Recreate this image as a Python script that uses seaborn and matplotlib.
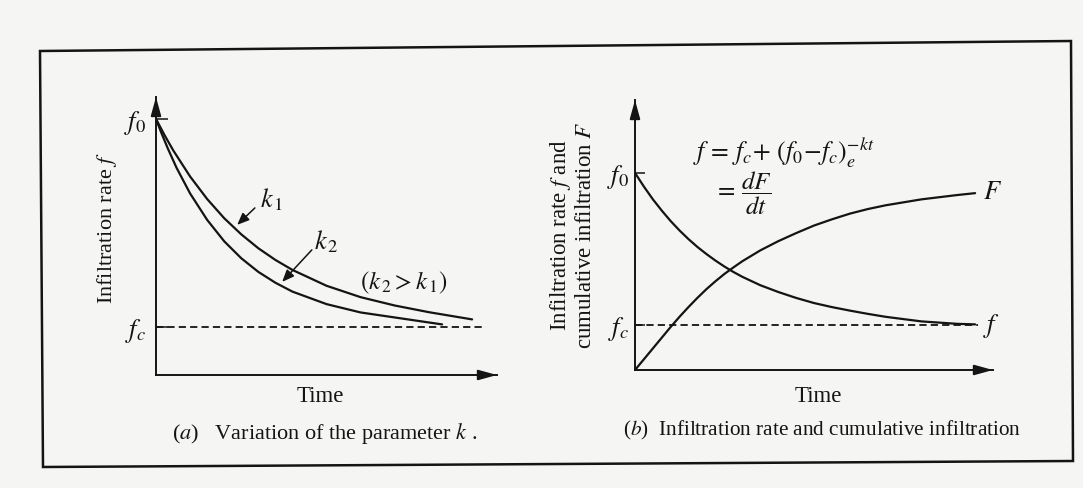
import matplotlib
matplotlib.use("Agg")
import matplotlib.pyplot as plt
from matplotlib.patches import Polygon
import seaborn as sns

# ---------------- data ----------------
# (a) infiltration capacity for two decay constants (k2 > k1)
t_k1 = [0, 0.25, 0.5, 1, 1.5, 2, 2.5, 3, 3.5, 4, 5, 6, 7, 8, 9.27]
f_k1 = [9.21, 8.63, 8.09, 7.14, 6.33, 5.64, 5.06, 4.56, 4.14, 3.78, 3.21, 2.80, 2.50, 2.26, 2.00]
t_k2 = [0, 0.15, 0.35, 0.6, 1, 1.5, 2, 2.5, 3, 3.5, 4, 5, 6, 7, 8.39]
f_k2 = [9.21, 8.73, 8.14, 7.46, 6.53, 5.58, 4.81, 4.20, 3.71, 3.32, 3.00, 2.55, 2.25, 2.07, 1.82]
f0_a, fc_a, fc_a_end = 9.21, 1.73, 9.59

# (b) infiltration rate f and cumulative infiltration F
t_b = [0, 0.25, 0.5, 0.75, 1, 1.25, 1.5, 1.75, 2, 2.25, 2.5, 2.75, 3, 3.5, 4,
       4.5, 5, 5.5, 6, 6.5, 7, 8, 9, 9.5]
f_b = [7.30, 6.79, 6.32, 5.90, 5.51, 5.16, 4.84, 4.55, 4.29, 4.05, 3.83, 3.63, 3.45, 3.14, 2.89,
       2.67, 2.48, 2.33, 2.20, 2.08, 1.97, 1.80, 1.71, 1.69]
F_b = [0, 0.40, 0.80, 1.20, 1.60, 1.98, 2.34, 2.68, 3.00, 3.29, 3.56, 3.80, 4.03, 4.43, 4.77,
       5.07, 5.35, 5.58, 5.79, 5.96, 6.10, 6.32, 6.48, 6.55]
f0_b, fc_b, fc_b_end = 7.30, 1.67, 9.58

# ---------------- style ----------------
sns.set_theme(style="white")
plt.rcParams["font.family"] = ["Liberation Serif", "DejaVu Serif"]
plt.rcParams["mathtext.fontset"] = "stix"

INK = "#141414"
PAPER = "#f5f5f4"
W, H = 1083, 488

fig = plt.figure(figsize=(W / 100, H / 100), dpi=100, facecolor=PAPER)


def axes_px(left, top, right, bottom):
    return fig.add_axes([left / W, 1 - bottom / H, (right - left) / W, (bottom - top) / H])


def fig_xy(x, y):
    return x / W, 1 - y / H


def setup(ax, f0, fc, tick_len, pad):
    ax.set_facecolor("none")
    ax.set_xlim(0, 10)
    ax.set_ylim(0, 10)
    for s in ("top", "right"):
        ax.spines[s].set_visible(False)
    for s in ("left", "bottom"):
        ax.spines[s].set_color(INK)
        ax.spines[s].set_linewidth(1.4)
    ax.set_xticks([])
    ax.set_yticks([fc, f0], labels=[r"$f_c$", r"$f_0$"])
    ax.tick_params(axis="y", direction="in", length=tick_len, width=1.1,
                   color=INK, labelsize=19, pad=pad, left=True, labelcolor=INK)
    ax.grid(False)
    head = "-|>,head_length=0.8,head_width=0.22"
    ax.annotate("", xy=(1.0, 0), xytext=(0.95, 0), xycoords="axes fraction",
                arrowprops=dict(arrowstyle=head, color=INK, lw=1.4, mutation_scale=14,
                                shrinkA=0, shrinkB=0))
    ax.annotate("", xy=(0, 1.0), xytext=(0, 0.95), xycoords="axes fraction",
                arrowprops=dict(arrowstyle=head, color=INK, lw=1.4, mutation_scale=14,
                                shrinkA=0, shrinkB=0))


dash = (0, (4.0, 2.3))
pointer = dict(arrowstyle="-|>,head_length=0.6,head_width=0.25",
               color=INK, lw=1.1, mutation_scale=12, shrinkA=0, shrinkB=0)

# ---------------- panel (a) ----------------
ax_a = axes_px(156, 97, 497, 375)
setup(ax_a, f0_a, fc_a, 8.5, 7)
sns.lineplot(x=t_k1, y=f_k1, ax=ax_a, color=INK, lw=1.6, estimator=None, sort=False)
sns.lineplot(x=t_k2, y=f_k2, ax=ax_a, color=INK, lw=1.6, estimator=None, sort=False)
ax_a.hlines(fc_a, 0, fc_a_end, colors=INK, lw=1.3, linestyles=dash)

ax_a.annotate("", xy=(2.38, 5.40), xytext=(2.90, 6.01), arrowprops=pointer)
ax_a.annotate("", xy=(3.70, 3.35), xytext=(4.57, 4.50), arrowprops=pointer)
ax_a.text(3.38, 6.30, r"$k_{\,1}$", fontsize=19, ha="center", va="center", color=INK)
ax_a.text(5.00, 4.80, r"$k_{\,2}$", fontsize=19, ha="center", va="center", color=INK)
ax_a.text(7.27, 3.30, r"$(k_{\,2} > k_{\,1})$", fontsize=18, ha="center", va="center", color=INK)

ax_a.set_ylabel(r"Infiltration rate $f$", fontsize=16, color=INK)
ax_a.yaxis.set_label_coords(-0.144, 0.53)
ax_a.yaxis.label.set_va("center")
fig.text(*fig_xy(320, 396), "Time", fontsize=16.5, ha="center", va="center", color=INK)

# ---------------- panel (b) ----------------
ax_b = axes_px(635, 100, 993, 370)
setup(ax_b, f0_b, fc_b, 7, 4)
sns.lineplot(x=t_b, y=f_b, ax=ax_b, color=INK, lw=1.6, estimator=None, sort=False)
sns.lineplot(x=t_b, y=F_b, ax=ax_b, color=INK, lw=1.6, estimator=None, sort=False)
ax_b.hlines(fc_b, 0, fc_b_end, colors=INK, lw=1.3, linestyles=dash)

ax_b.text(9.72, F_b[-1], r"$F$", fontsize=19, ha="left", va="center", color=INK)
ax_b.text(9.72, fc_b - 0.05, r"$f$", fontsize=19, ha="left", va="center", color=INK)
ax_b.text(1.62, 8.04, r"$f\,=\,f_c\!+\,(f_0\!-\!f_c)_e^{-kt}$", fontsize=18.5,
          ha="left", va="center", color=INK)
ax_b.text(2.22, 6.55, r"$=\,\dfrac{dF}{dt}$", fontsize=18, ha="left", va="center", color=INK)

ax_b.set_ylabel("Infiltration rate $f$ and\ncumulative infiltration $F$",
                fontsize=16.5, color=INK, linespacing=1.12)
ax_b.yaxis.set_label_coords(-0.175, 0.50)
ax_b.yaxis.label.set_va("center")
fig.text(*fig_xy(818, 397), "Time", fontsize=16.5, ha="center", va="center", color=INK)

# ---------------- captions and frame ----------------
fig.text(*fig_xy(325, 433), r"($a$)   Variation of the parameter $k$ .",
         fontsize=16, ha="center", va="center", color=INK)
fig.text(*fig_xy(822, 430), r"($b$)  Infiltration rate and cumulative infiltration",
         fontsize=15.3, ha="center", va="center", color=INK)

corners = [(40, 51), (1071, 41), (1073, 461), (43, 467)]
frame = Polygon([fig_xy(x, y) for x, y in corners], closed=True, fill=False,
                edgecolor=INK, lw=1.8, transform=fig.transFigure)
fig.add_artist(frame)

fig.savefig("out.png", dpi=100, facecolor=PAPER)
